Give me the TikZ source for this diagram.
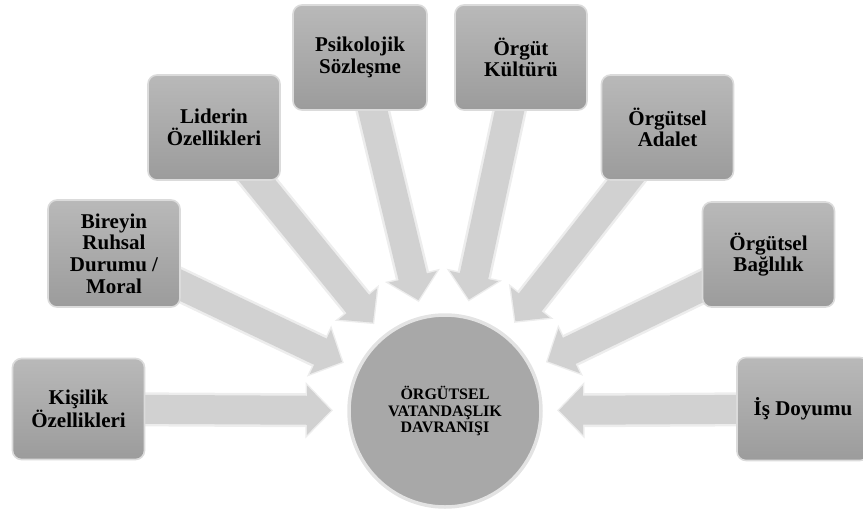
\documentclass[tikz,border=0pt]{standalone}
\usepackage{fontspec}
\setmainfont{Liberation Serif}
\usetikzlibrary{arrows.meta,backgrounds,calc}

\tikzset{
  factor/.style={rectangle, rounded corners=9pt, minimum width=132pt, minimum height=105pt,
    inner sep=0pt, align=center, text=black,
    top color=gray!55, bottom color=gray!78, draw=gray!28, line width=1.6pt,
    font=\bfseries\fontsize{21}{21.7}\selectfont,
    path picture={\fill[white, opacity=.35, rounded corners=5pt]
      ($(path picture bounding box.north west)+(6,-3)$) rectangle
      ($(path picture bounding box.north east)+(-6,-13)$);}},
  hub/.style={circle, minimum size=192pt, inner sep=0pt, align=center, text=black,
    fill=gray!68, draw=gray!22, line width=3.5pt,
    font=\bfseries\fontsize{16}{16.6}\selectfont},
  flow/.style={line width=29pt, draw=gray!36, -{Triangle[length=24pt,width=48pt]},
    shorten >=114pt,
    preaction={draw=gray!14, line width=34pt, -{Triangle[length=27.5pt,width=55pt]},
      shorten >=112pt}}
}

\begin{document}
\begin{tikzpicture}[x=1pt, y=-1pt]
  \useasboundingbox (0,0) rectangle (863,512);

  % central concept
  \node[hub] (ovd) at (445,411) {ÖRGÜTSEL\\VATANDAŞLIK\\DAVRANIŞI};

  % antecedent factors
  \node[factor, minimum height=101pt] (kisilik) at (78.5,409) {Kişilik\\Özellikleri};
  \node[factor, minimum height=107pt] (ruhsal)  at (114,253.5) {Bireyin\\Ruhsal\\Durumu /\\Moral};
  \node[factor] (lider)   at (214,127.5) {Liderin\\Özellikleri};
  \node[factor, minimum width=134pt] (sozlesme) at (360,57.5) {Psikolojik\\Sözleşme};
  \node[factor] (kultur)  at (521,57.5) {Örgüt\\Kültürü};
  \node[factor] (adalet)  at (667.5,127.5) {Örgütsel\\Adalet};
  \node[factor] (baglilik) at (768.5,254.5) {Örgütsel\\Bağlılık};
  \node[factor, minimum height=103pt] (doyum) at (803,409) {İş Doyumu};

  % block arrows pointing into the centre
  \begin{scope}[on background layer]
    \foreach \src in {kisilik,ruhsal,lider,sozlesme,kultur,adalet,baglilik,doyum}
      \draw[flow] (\src.center) -- (ovd.center);
  \end{scope}
\end{tikzpicture}
\end{document}
